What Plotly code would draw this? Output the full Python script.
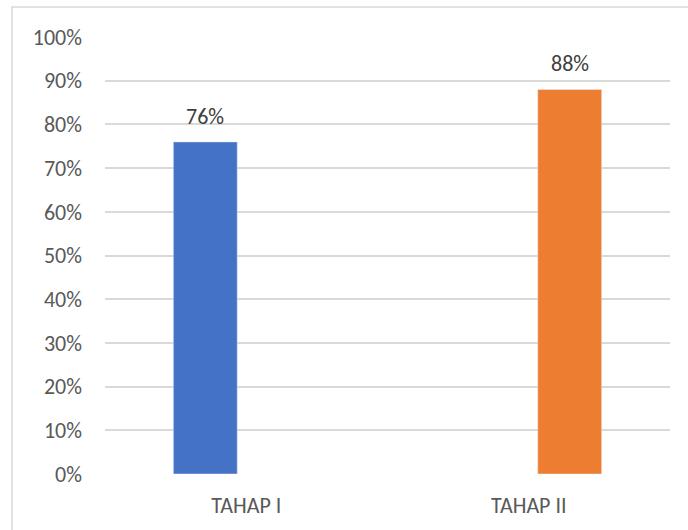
import plotly.graph_objects as go

categories = ["TAHAP I", "TAHAP II"]
series1 = [0.76, None]
series2 = [None, 0.88]
y_ticks = [0, 0.1, 0.2, 0.3, 0.4, 0.5, 0.6, 0.7, 0.8, 0.9, 1.0]
y_tick_labels = ["0%", "10%", "20%", "30%", "40%", "50%", "60%", "70%", "80%", "90%", "100%"]

FONT = "Calibri, Carlito, Lato, sans-serif"

fig = go.Figure()
fig.add_trace(go.Bar(x=categories, y=series1, marker_color="#4472C4",
                     cliponaxis=False, showlegend=False))
fig.add_trace(go.Bar(x=categories, y=series2, marker_color="#ED7D31",
                     cliponaxis=False, showlegend=False))

# data labels above each bar (offset to the bar's slot within its group)
annotations = []
for series, xshift in ((series1, -41), (series2, 41)):
    for cat, val in zip(categories, series):
        if val is None:
            continue
        annotations.append(dict(x=cat, y=val, xref="x", yref="y",
                                text=f"{val:.0%}", showarrow=False,
                                yanchor="bottom", xanchor="center",
                                xshift=xshift, yshift=10,
                                font=dict(family=FONT, size=22, color="#404040")))

fig.update_layout(
    width=688, height=530,
    margin=dict(l=105, r=18, t=37, b=56),
    paper_bgcolor="white", plot_bgcolor="white",
    barmode="group", bargap=0.42, bargroupgap=0.22,
    font=dict(family=FONT, color="#595959", size=22),
    xaxis=dict(showgrid=False, zeroline=False, showline=False, ticks="",
               ticklabelstandoff=16, tickfont=dict(size=22, color="#595959")),
    yaxis=dict(range=[0, 1.0], tickvals=y_ticks, ticktext=y_tick_labels,
               showgrid=True, gridcolor="#D9D9D9", gridwidth=1.5,
               zeroline=False, showline=False, ticks="",
               ticklabelstandoff=22, tickfont=dict(size=22, color="#595959")),
    annotations=annotations,
    shapes=[dict(type="rect", xref="paper", yref="paper",
                 x0=(12 - 105) / 565, x1=(700 - 105) / 565,
                 y0=(474 - 540) / 437, y1=(474 - 7) / 437,
                 line=dict(color="#D9D9D9", width=1.5), fillcolor="rgba(0,0,0,0)",
                 layer="below")],
)

fig.write_html("out.html")
